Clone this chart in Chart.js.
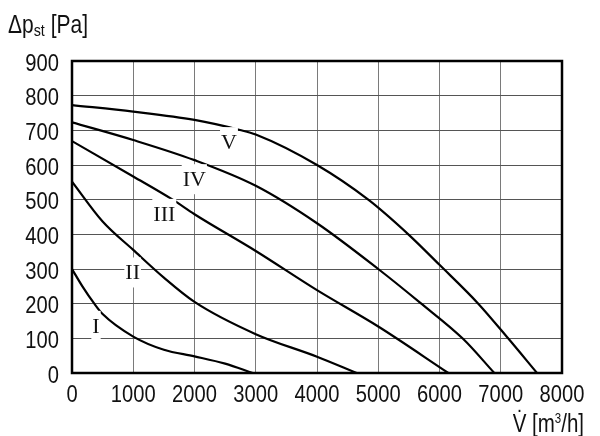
<!DOCTYPE html>
<html>
<head>
<meta charset="utf-8">
<script src="https://cdn.jsdelivr.net/npm/chart.js@4/dist/chart.umd.min.js"></script>
<style>
  html, body { margin: 0; padding: 0; background: #fff; }
  #wrap { position: relative; width: 600px; height: 436px; }
  canvas { position: absolute; left: 0; top: 0; }
  .axis-title {
    position: absolute;
    font-family: "Liberation Sans", Arial, sans-serif;
    font-size: 25px;
    line-height: 25px;
    color: #111;
    white-space: nowrap;
  }
  .axis-title sub { font-size: 17px; vertical-align: -3px; }
  .axis-title sup { font-size: 14px; vertical-align: 9px; }
  #yTitle { left: 8px; top: 12px; transform: scaleX(0.84); transform-origin: left center; }
  #xTitle { right: 16px; top: 406px; transform: scaleX(0.82); transform-origin: right center; }
</style>
</head>
<body>
<div id="wrap">
  <canvas id="fanCurves" width="600" height="436"></canvas>
  <div id="yTitle" class="axis-title">&Delta;p<sub>st</sub> [Pa]</div>
  <div id="xTitle" class="axis-title">V&#775; [m<sup>3</sup>/h]</div>
</div>
<script>
// fan curves I..V : volume flow [m3/h] vs static pressure [Pa]
var flowI = [0, 170, 364, 500, 1000, 1500, 2000, 2500, 2950];
var pressureI = [300, 250, 200, 170, 105, 67, 48, 27, 0];

var flowII = [0, 500, 1000, 1500, 2000, 3000, 4000, 4648];
var pressureII = [552, 437, 355, 275, 205, 112, 47, 0];

var flowIII = [0, 1000, 1644, 2000, 3000, 4000, 5000, 6144];
var pressureIII = [669, 567, 500, 458, 352, 239, 134, 0];

var flowIV = [0, 1000, 2000, 3000, 4000, 5000, 5682, 6388, 6895];
var pressureIV = [723, 672, 614, 540, 432, 300, 203, 98, 0];

var flowV = [0, 1000, 2000, 2743, 3000, 4000, 4837, 5491, 6000, 6633, 7120, 7592];
var pressureV = [773, 754, 730, 701, 688, 600, 500, 400, 312, 200, 100, 0];

var curveNames = ["I", "II", "III", "IV", "V"];
var labelFlow = [392, 991, 1507, 1997, 2563];
var labelPressure = [136, 290, 459, 559, 666];

function toPoints(xs, ys) {
  return xs.map(function (x, i) { return { x: x, y: ys[i] }; });
}

var curves = [
  toPoints(flowI, pressureI),
  toPoints(flowII, pressureII),
  toPoints(flowIII, pressureIII),
  toPoints(flowIV, pressureIV),
  toPoints(flowV, pressureV)
];

// narrow tick text: the scale's own ticks, squeezed horizontally
function drawNarrow(ctx, text, x, y, align) {
  var w = ctx.measureText(text).width * 0.84;
  var left = align === "right" ? x - w : x - w / 2;
  ctx.save();
  ctx.translate(left, y);
  ctx.scale(0.84, 1);
  ctx.fillText(text, 0, 0);
  ctx.restore();
}

var framePlugin = {
  id: "frame",
  afterDatasetsDraw: function (chart) {
    var ctx = chart.ctx;
    var a = chart.chartArea;
    var xs = chart.scales.x, ys = chart.scales.y;
    ctx.save();
    // curve names with white backing
    ctx.font = "22px 'Liberation Serif', 'DejaVu Serif', serif";
    ctx.textAlign = "center";
    ctx.textBaseline = "middle";
    curveNames.forEach(function (name, i) {
      var px = xs.getPixelForValue(labelFlow[i]);
      var py = ys.getPixelForValue(labelPressure[i]);
      var w = ctx.measureText(name).width;
      ctx.fillStyle = "#fff";
      ctx.fillRect(px - w / 2 - 1, py - 15, w + 2, 30);
      ctx.fillStyle = "#111";
      ctx.fillText(name, px, py + 1);
    });
    // plot frame
    ctx.strokeStyle = "#000";
    ctx.lineWidth = 2.5;
    ctx.strokeRect(a.left, a.top, a.right - a.left, a.bottom - a.top);

    // tick labels
    ctx.font = "24px 'Liberation Sans', Arial, sans-serif";
    ctx.fillStyle = "#111";
    ctx.textAlign = "left";
    ctx.textBaseline = "alphabetic";
    xs.ticks.forEach(function (t) {
      drawNarrow(ctx, String(t.value), xs.getPixelForValue(t.value), a.bottom + 29, "center");
    });
    ys.ticks.forEach(function (t) {
      drawNarrow(ctx, String(t.value), a.left - 13, ys.getPixelForValue(t.value) + 9.5, "right");
    });
    ctx.restore();
  }
};

new Chart(document.getElementById("fanCurves"), {
  type: "line",
  data: {
    datasets: curves.map(function (pts, i) {
      return {
        label: curveNames[i],
        data: pts,
        borderColor: "#000",
        borderWidth: 2.2,
        pointRadius: 0,
        fill: false,
        cubicInterpolationMode: "monotone"
      };
    })
  },
  options: {
    responsive: false,
    animation: false,
    layout: { padding: { left: 0, right: 38, top: 61, bottom: 0 } },
    plugins: { legend: { display: false }, tooltip: { enabled: false } },
    scales: {
      x: {
        type: "linear",
        min: 0,
        max: 8000,
        ticks: { stepSize: 1000, display: false },
        grid: { color: "#7a7a7a", lineWidth: 1, drawTicks: false },
        border: { display: false },
        afterFit: function (s) { s.height = 63; }
      },
      y: {
        min: 0,
        max: 900,
        ticks: { stepSize: 100, display: false },
        grid: { color: "#555", lineWidth: 1, drawTicks: false },
        border: { display: false },
        afterFit: function (s) { s.width = 72; }
      }
    }
  },
  plugins: [framePlugin]
});
</script>
</body>
</html>
